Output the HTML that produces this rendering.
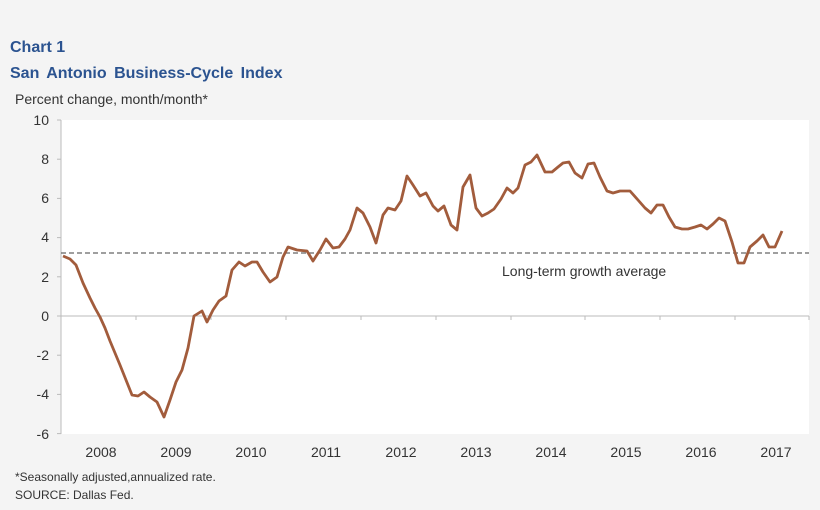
<!DOCTYPE html>
<html><head><meta charset="utf-8"><style>
html,body{margin:0;padding:0;background:#f4f4f4;}
svg{display:block;font-family:"Liberation Sans",Arial,sans-serif;}
</style></head><body>
<svg width="820" height="510" viewBox="0 0 820 510" xmlns="http://www.w3.org/2000/svg">
<rect width="820" height="510" fill="#f4f4f4"/>
<text x="10" y="52" font-size="16" font-weight="bold" fill="#2b5390">Chart 1</text>
<text x="10" y="78" font-size="16" font-weight="bold" fill="#2b5390" word-spacing="3">San Antonio Business-Cycle Index</text>
<text x="15" y="104" font-size="14" fill="#333">Percent change, month/month*</text>
<rect x="61" y="120" width="748" height="314" fill="#fff"/>
<line x1="61" y1="120" x2="61" y2="434" stroke="#bbb" stroke-width="1"/>
<g stroke="#bbb" stroke-width="1">
<line x1="57" y1="120" x2="61" y2="120"/><line x1="57" y1="159.2" x2="61" y2="159.2"/>
<line x1="57" y1="198.4" x2="61" y2="198.4"/><line x1="57" y1="237.6" x2="61" y2="237.6"/>
<line x1="57" y1="276.8" x2="61" y2="276.8"/><line x1="57" y1="316" x2="61" y2="316"/>
<line x1="57" y1="355.2" x2="61" y2="355.2"/><line x1="57" y1="394.4" x2="61" y2="394.4"/>
<line x1="57" y1="433.6" x2="61" y2="433.6"/>
<line x1="61" y1="316" x2="809" y2="316"/>
<line x1="136" y1="316" x2="136" y2="320"/><line x1="211" y1="316" x2="211" y2="320"/>
<line x1="286" y1="316" x2="286" y2="320"/><line x1="361" y1="316" x2="361" y2="320"/>
<line x1="436" y1="316" x2="436" y2="320"/><line x1="511" y1="316" x2="511" y2="320"/>
<line x1="585" y1="316" x2="585" y2="320"/><line x1="660" y1="316" x2="660" y2="320"/>
<line x1="735" y1="316" x2="735" y2="320"/><line x1="809" y1="316" x2="809" y2="320"/>
</g>
<g font-size="14" fill="#333" text-anchor="end">
<text x="49" y="125">10</text><text x="49" y="164">8</text><text x="49" y="203">6</text>
<text x="49" y="242">4</text><text x="49" y="282">2</text><text x="49" y="321">0</text>
<text x="49" y="360">-2</text><text x="49" y="399">-4</text><text x="49" y="439">-6</text>
</g>
<g font-size="14" fill="#333" text-anchor="middle">
<text x="101" y="457">2008</text><text x="176" y="457">2009</text><text x="251" y="457">2010</text>
<text x="326" y="457">2011</text><text x="401" y="457">2012</text><text x="476" y="457">2013</text>
<text x="551" y="457">2014</text><text x="626" y="457">2015</text><text x="701" y="457">2016</text>
<text x="776" y="457">2017</text>
</g>
<line x1="61" y1="253" x2="809" y2="253" stroke="#666" stroke-width="1.3" stroke-dasharray="5,3"/>
<text x="502" y="276" font-size="14" fill="#333">Long-term growth average</text>
<polyline fill="none" stroke="#a25c3c" stroke-width="2.8" stroke-linejoin="round" points="
63,256 70,259 76,265 83,283 90,298 95,308 100,317 105,328 110,341 115,353 120,365 126,380 132,395 138,396 144,392 150,397 157,402 164,417 170,400 176,382 182,370 188,348 194,316 202,311 207,322 213,310 219,301 226,296 232,270 239,262 245,266 252,262 257,262 263,272 270,282 277,277 283,257 288,247 297,250 307,251
313,261 320,250 326,239 333,248 339,247 345,239 350,230 357,208 363,213 370,227 376,243 383,215 388,208 395,210 401,201 407,176 413,185 420,196 426,193 433,206 438,211 444,206 451,225 457,230 463,187 470,175 476,208 482,216 488,213 494,209 501,199 507,188 513,193 518,188 525,165 531,162 537,155 545,172 552,172 558,167 563,163 569,162 575,173 582,178 588,164 594,163 600,177 607,191 613,193 620,191 630,191 638,200 645,208 651,213 657,205 663,205 669,217 675,227 682,229 688,229 695,227 701,225 707,229 713,224 719,218 725,221 732,242 738,263 744,263 750,247 757,241 763,235 769,247 775,247 782,231"/>
<text x="15" y="481" font-size="12" fill="#333">*Seasonally adjusted,annualized rate.</text>
<text x="15" y="499" font-size="12" fill="#333">SOURCE: Dallas Fed.</text>
</svg>
</body></html>
